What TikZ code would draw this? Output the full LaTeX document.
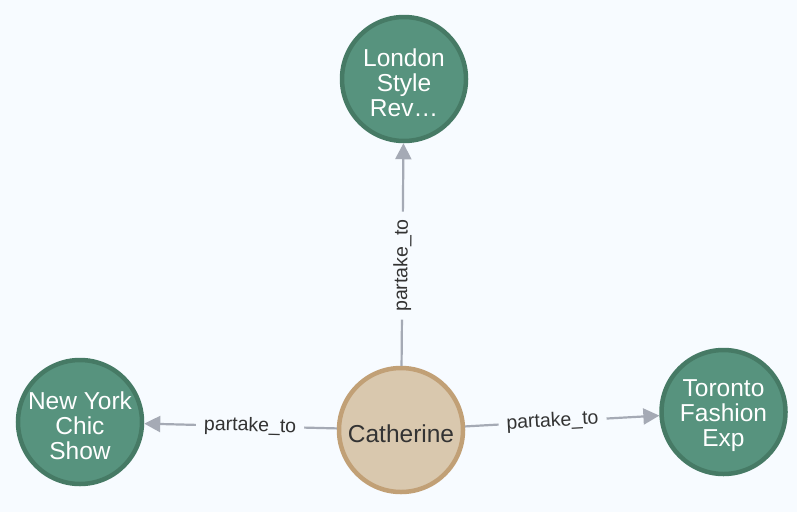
\documentclass[tikz,border=0pt]{standalone}
\usepackage{fontspec}
\setmainfont{Liberation Sans}
\usetikzlibrary{arrows.meta}
\definecolor{bgc}{RGB}{247,251,255}
\definecolor{gfill}{RGB}{87,147,126}
\definecolor{gline}{RGB}{70,122,101}
\definecolor{cfill}{RGB}{217,200,174}
\definecolor{cline}{RGB}{193,160,118}
\definecolor{edgec}{RGB}{165,170,181}
\definecolor{txt}{RGB}{51,51,51}
\begin{document}
\begin{tikzpicture}[x=1pt,y=-1pt,
  ent/.style={circle,minimum size=124pt,inner sep=0pt,line width=4.5pt,draw=gline,fill=gfill},
  person/.style={ent,draw=cline,fill=cfill},
  ntext/.style={text=white,align=center,inner sep=0pt,yshift=-4pt,font=\fontsize{24.5}{25}\selectfont},
  ptext/.style={ntext,text=txt},
  edge/.style={draw=edgec,line width=2.2pt,-{Triangle[length=16pt,width=16pt]}},
  lbl/.style={fill=bgc,text=txt,inner xsep=8pt,inner ysep=2pt,sloped,font=\fontsize{19.5}{22}\selectfont}]
\fill[bgc] (0,0) rectangle (797,512);
\useasboundingbox (0,0) rectangle (797,512);
\node[ent,label={[ntext]center:London\\Style\\Rev\ldots}] (L) at (404,79) {};
\node[ent,label={[ntext]center:New York\\Chic\\Show}] (N) at (80,422) {};
\node[ent,label={[ntext]center:Toronto\\Fashion\\Exp}] (T) at (723.5,412) {};
\node[person,label={[ptext]center:Catherine}] (C) at (401,430) {};
\draw[edge] (C) -- node[lbl,pos=.45]{partake\_to} (L);
\draw[edge] (C) -- node[lbl,pos=.45]{partake\_to} (N);
\draw[edge] (C) -- node[lbl,pos=.45]{partake\_to} (T);
\end{tikzpicture}
\end{document}
